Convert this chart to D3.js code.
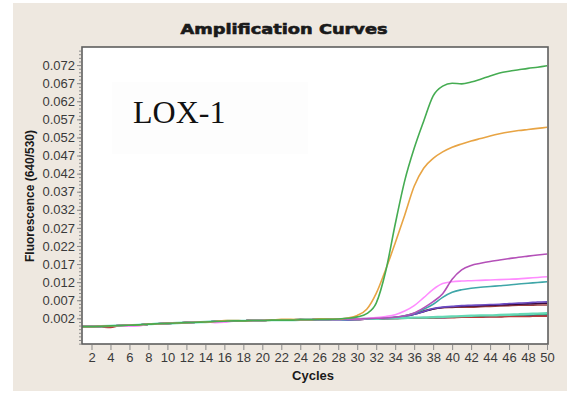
<!DOCTYPE html>
<html><head><meta charset="utf-8">
<script src="https://cdn.jsdelivr.net/npm/d3@7"></script>
<style>body{margin:0;background:#fff}svg{display:block}</style>
</head><body>
<svg id="c" width="581" height="398"></svg>
<script>
// ---- data ----
const cycles = d3.range(1, 51);
const xTicks = d3.range(2, 51, 2);
const yTickValues = [0.002,0.007,0.012,0.017,0.022,0.027,0.032,0.037,0.042,0.047,0.052,0.057,0.062,0.067,0.072];
const yTickLabels = ["0.002","0.007","0.012","0.017","0.022","0.027","0.032","0.037","0.042","0.047","0.052","0.057","0.062","0.067","0.072"];

const blue = [-0.0003,-0.0003,-0.0002,-0.0001,0.0000,0.0001,0.0002,0.0004,0.0005,0.0006,0.0007,0.0008,0.0009,0.0010,0.0011,0.0012,0.0013,0.0013,0.0014,0.0014,0.0015,0.0015,0.0015,0.0016,0.0016,0.0017,0.0017,0.0017,0.0018,0.0018,0.0018,0.0019,0.0019,0.0020,0.0020,0.0021,0.0021,0.0022,0.0022,0.0023,0.0023,0.0024,0.0024,0.0025,0.0025,0.0026,0.0026,0.0027,0.0027,0.0028];
const darkGreen = [-0.0003,-0.0003,-0.0002,-0.0001,0.0000,0.0001,0.0002,0.0004,0.0005,0.0006,0.0007,0.0008,0.0009,0.0010,0.0011,0.0012,0.0013,0.0013,0.0014,0.0014,0.0015,0.0015,0.0015,0.0016,0.0016,0.0017,0.0017,0.0019,0.0019,0.0018,0.0019,0.0019,0.0020,0.0020,0.0021,0.0021,0.0022,0.0022,0.0023,0.0024,0.0025,0.0025,0.0026,0.0027,0.0027,0.0028,0.0029,0.0030,0.0030,0.0031];
const red = [-0.0003,-0.0003,-0.0004,-0.0005,0.0000,0.0001,0.0002,0.0004,0.0005,0.0006,0.0007,0.0008,0.0009,0.0010,0.0011,0.0012,0.0013,0.0013,0.0014,0.0014,0.0015,0.0015,0.0015,0.0018,0.0017,0.0017,0.0017,0.0018,0.0016,0.0016,0.0018,0.0018,0.0019,0.0019,0.0020,0.0020,0.0021,0.0021,0.0022,0.0022,0.0023,0.0023,0.0023,0.0024,0.0024,0.0025,0.0025,0.0025,0.0026,0.0026];
const maroon = [-0.0003,-0.0003,-0.0002,-0.0001,0.0000,0.0001,0.0002,0.0004,0.0005,0.0006,0.0007,0.0008,0.0009,0.0010,0.0011,0.0012,0.0013,0.0013,0.0014,0.0014,0.0015,0.0015,0.0015,0.0016,0.0016,0.0017,0.0017,0.0016,0.0016,0.0017,0.0018,0.0019,0.0020,0.0022,0.0026,0.0033,0.0041,0.0046,0.0049,0.0050,0.0051,0.0051,0.0052,0.0053,0.0054,0.0055,0.0056,0.0056,0.0057,0.0057];
const darkPurple = [-0.0003,-0.0003,-0.0002,-0.0001,0.0000,0.0001,0.0002,0.0004,0.0005,0.0006,0.0007,0.0008,0.0009,0.0010,0.0011,0.0012,0.0013,0.0013,0.0014,0.0014,0.0015,0.0015,0.0015,0.0016,0.0016,0.0017,0.0017,0.0017,0.0018,0.0018,0.0018,0.0019,0.0020,0.0022,0.0025,0.0031,0.0038,0.0046,0.0050,0.0052,0.0053,0.0054,0.0055,0.0056,0.0057,0.0058,0.0059,0.0060,0.0061,0.0062];
const violet = [-0.0003,-0.0003,-0.0002,-0.0001,0.0000,0.0001,0.0002,0.0004,0.0005,0.0006,0.0007,0.0008,0.0009,0.0010,0.0011,0.0012,0.0013,0.0013,0.0014,0.0014,0.0015,0.0015,0.0015,0.0016,0.0016,0.0017,0.0017,0.0015,0.0015,0.0016,0.0018,0.0019,0.0020,0.0022,0.0025,0.0031,0.0039,0.0047,0.0051,0.0053,0.0055,0.0056,0.0057,0.0058,0.0059,0.0061,0.0062,0.0063,0.0065,0.0066];
const teal = [-0.0003,-0.0003,-0.0002,-0.0001,0.0000,0.0001,0.0002,0.0004,0.0005,0.0006,0.0007,0.0008,0.0009,0.0010,0.0011,0.0012,0.0013,0.0013,0.0014,0.0014,0.0015,0.0015,0.0015,0.0016,0.0016,0.0017,0.0017,0.0017,0.0018,0.0018,0.0019,0.0020,0.0021,0.0023,0.0027,0.0034,0.0045,0.0059,0.0078,0.0092,0.0099,0.0103,0.0106,0.0108,0.0110,0.0112,0.0115,0.0117,0.0119,0.0121];
const pink = [-0.0003,-0.0003,-0.0002,-0.0001,0.0000,-0.0002,-0.0001,0.0004,0.0005,0.0006,0.0007,0.0008,0.0009,0.0010,0.0008,0.0009,0.0013,0.0013,0.0014,0.0014,0.0015,0.0015,0.0015,0.0016,0.0016,0.0017,0.0017,0.0017,0.0018,0.0018,0.0020,0.0022,0.0025,0.0030,0.0040,0.0055,0.0077,0.0100,0.0116,0.0121,0.0123,0.0124,0.0125,0.0126,0.0127,0.0128,0.0129,0.0131,0.0133,0.0135];
const purple = [-0.0003,-0.0003,-0.0002,-0.0001,0.0000,0.0001,0.0002,0.0004,0.0005,0.0006,0.0007,0.0008,0.0009,0.0010,0.0011,0.0012,0.0013,0.0013,0.0014,0.0014,0.0015,0.0015,0.0015,0.0016,0.0016,0.0017,0.0017,0.0017,0.0018,0.0018,0.0019,0.0020,0.0021,0.0023,0.0027,0.0035,0.0049,0.0066,0.0088,0.0128,0.0154,0.0166,0.0172,0.0177,0.0181,0.0185,0.0189,0.0192,0.0195,0.0198];
const orange = [-0.0003,-0.0003,-0.0002,-0.0001,0.0000,0.0001,0.0002,0.0004,0.0005,0.0006,0.0007,0.0008,0.0009,0.0010,0.0011,0.0014,0.0014,0.0013,0.0014,0.0014,0.0015,0.0017,0.0017,0.0016,0.0016,0.0019,0.0018,0.0018,0.0021,0.0028,0.0045,0.0089,0.0155,0.0228,0.0305,0.0385,0.0435,0.0462,0.0480,0.0493,0.0502,0.0510,0.0517,0.0524,0.0530,0.0535,0.0539,0.0542,0.0545,0.0548];
const green = [-0.0003,-0.0003,-0.0002,-0.0001,0.0000,0.0001,0.0002,0.0004,0.0005,0.0006,0.0007,0.0008,0.0009,0.0010,0.0011,0.0012,0.0013,0.0013,0.0014,0.0014,0.0015,0.0015,0.0015,0.0016,0.0016,0.0017,0.0017,0.0018,0.0020,0.0024,0.0033,0.0062,0.0150,0.0280,0.0400,0.0490,0.0565,0.0635,0.0662,0.0670,0.0668,0.0673,0.0681,0.0690,0.0698,0.0703,0.0707,0.0711,0.0714,0.0718];
const mint = [-0.0003,-0.0003,-0.0002,-0.0001,0.0000,0.0001,0.0002,0.0004,0.0005,0.0006,0.0007,0.0008,0.0009,0.0010,0.0011,0.0012,0.0013,0.0013,0.0014,0.0014,0.0015,0.0015,0.0015,0.0016,0.0016,0.0017,0.0017,0.0017,0.0018,0.0018,0.0019,0.0019,0.0020,0.0020,0.0021,0.0022,0.0022,0.0023,0.0024,0.0025,0.0026,0.0027,0.0028,0.0028,0.0029,0.0030,0.0031,0.0032,0.0033,0.0034];

const seriesList = [
  {name:"blue", values: blue, color:"#2a3fa8", w:1.6},
  {name:"darkGreen", values: darkGreen, color:"#17805a", w:1.6},
  {name:"red", values: red, color:"#b83a3a", w:1.6},
  {name:"maroon", values: maroon, color:"#9a3c3c", w:1.6},
  {name:"darkPurple", values: darkPurple, color:"#3a0a40", w:1.6},
  {name:"violet", values: violet, color:"#6c4cc4", w:1.6},
  {name:"mint", values: mint, color:"#64d8b4", w:2.4},
  {name:"teal", values: teal, color:"#3fa6a8", w:1.6},
  {name:"pink", values: pink, color:"#ff8cff", w:1.6},
  {name:"purple", values: purple, color:"#b450b8", w:1.6},
  {name:"orange", values: orange, color:"#e8a444", w:1.6},
  {name:"green", values: green, color:"#45ac52", w:1.6}
];

// ---- layout ----
const svg = d3.select("#c");
const L = 82, R = 548, T = 47, B = 344;
const x = d3.scaleLinear().domain([1, 50.1]).range([L, R]);
const y = d3.scaleLinear().domain([-0.0051, 0.0770]).range([B, T]);

svg.append("rect").attr("x",13).attr("y",3).attr("width",554).attr("height",388).attr("fill","#eee8e0");
svg.append("rect").attr("x",L).attr("y",T).attr("width",R-L).attr("height",B-T).attr("fill","#ffffff");
svg.append("rect").attr("x",112).attr("y",82).attr("width",196).attr("height",72).attr("fill","#fdfdfd");

svg.append("text").attr("x",133).attr("y",123).attr("font-family","'Liberation Serif','Times New Roman',serif")
  .attr("font-size",32).attr("fill","#111").text("LOX-1");

// lines
const line = d3.line().x((d,i)=>x(cycles[i])).y(d=>y(d)).curve(d3.curveMonotoneX);
svg.append("clipPath").attr("id","pc").append("rect").attr("x",L).attr("y",T).attr("width",R-L).attr("height",B-T);
const g = svg.append("g").attr("clip-path","url(#pc)");
seriesList.forEach(s=>{
  g.append("path").datum(s.values).attr("d",line).attr("fill","none")
   .attr("stroke",s.color).attr("stroke-width",s.w).attr("stroke-linejoin","round");
});

// frame
svg.append("rect").attr("x",L).attr("y",T).attr("width",R-L).attr("height",B-T)
  .attr("fill","none").attr("stroke","#5e5e5e").attr("stroke-width",1.6);

// y axis
const yMinor = d3.range(-0.005, 0.0765, 0.001);
const yAxisMinor = d3.axisLeft(y).tickValues(yMinor).tickSize(2).tickFormat("");
const gym = svg.append("g").attr("transform",`translate(${L-1},0)`).call(yAxisMinor);
gym.select(".domain").remove();
gym.selectAll("line").attr("stroke","#8a8a8a");
const yAxis = d3.axisLeft(y).tickValues(yTickValues).tickSize(4).tickPadding(2)
  .tickFormat((d,i)=>yTickLabels[i]);
const gy = svg.append("g").attr("transform",`translate(${L-1},0)`).call(yAxis);
gy.select(".domain").remove();
gy.selectAll("line").attr("stroke","#8a8a8a");
gy.selectAll("text").attr("font-family","'Liberation Sans',Arial,sans-serif").attr("font-size",13).attr("fill","#3a3a3a");

// x axis
const xAxis = d3.axisBottom(x).tickValues(xTicks).tickSize(5).tickPadding(3).tickFormat(d3.format("d"));
const gx = svg.append("g").attr("transform",`translate(0,${B+1})`).call(xAxis);
gx.select(".domain").remove();
gx.selectAll("line").attr("stroke","#8a8a8a");
gx.selectAll("text").attr("font-family","'Liberation Sans',Arial,sans-serif").attr("font-size",13).attr("fill","#3a3a3a");

// titles
svg.append("text").attr("x",284).attr("y",34).attr("text-anchor","middle")
  .attr("font-family","'DejaVu Sans',sans-serif").attr("font-weight","bold").attr("font-size",14)
  .attr("fill","#1a1a1a").attr("stroke","#1a1a1a").attr("stroke-width",0.6)
  .attr("textLength",207).attr("lengthAdjust","spacingAndGlyphs").text("Amplification Curves");
svg.append("text").attr("transform","translate(34,196) rotate(-90)").attr("text-anchor","middle")
  .attr("font-family","'Liberation Sans',Arial,sans-serif").attr("font-weight","bold").attr("font-size",12)
  .attr("fill","#1a1a1a").text("Fluorescence (640/530)");
svg.append("text").attr("x",313).attr("y",380).attr("text-anchor","middle")
  .attr("font-family","'Liberation Sans',Arial,sans-serif").attr("font-weight","bold").attr("font-size",13)
  .attr("fill","#1a1a1a").text("Cycles");
</script>
</body></html>
